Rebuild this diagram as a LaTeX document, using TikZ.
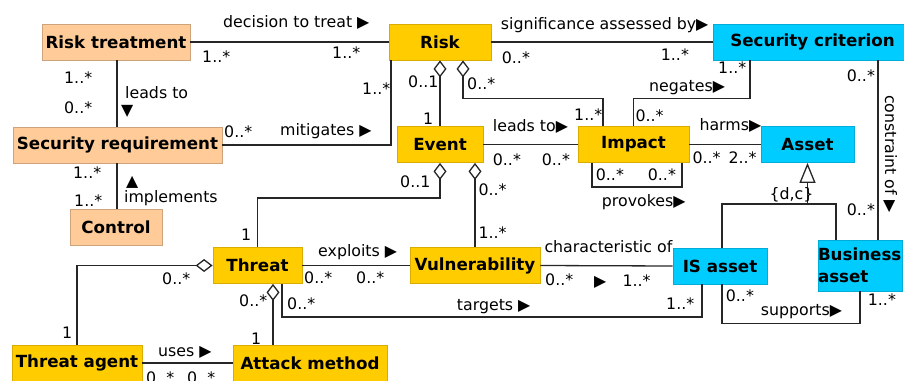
\documentclass[tikz,border=0pt]{standalone}
\usepackage{fontspec}
\setmainfont{DejaVu Sans}
\usepackage{color}
\usepackage{tikz}
\usetikzlibrary{arrows.meta}
\definecolor{peach}{RGB}{255,204,153}
\definecolor{gold}{RGB}{255,204,0}
\definecolor{sky}{RGB}{0,204,255}

\begin{document}
\begin{tikzpicture}[x=1pt, y=-1pt,
cls/.style={minimum height=36pt, inner sep=0pt, line width=0.8pt,
  font=\fontsize{16.7}{22}\selectfont\bfseries},
peachbox/.style={cls, fill=peach, draw=peach!80!black},
goldbox/.style={cls, fill=gold, draw=gold!85!black},
skybox/.style={cls, fill=sky, draw=sky!85!black},
lab/.style={inner sep=0pt, anchor=base west, font=\fontsize{15.8}{19}\selectfont},
link/.style={line width=1.3pt, draw=black!85},
agg/.style={link, {Diamond[open, length=17pt, width=13pt]}-},
gen/.style={link, {Triangle[open, length=20pt, width=16pt]}-}]
\useasboundingbox (0,0) rectangle (904,380);

% classes
\node[peachbox, minimum width=148pt] (rtreat) at (116,42) {Risk treatment};
\node[peachbox, minimum width=209pt] (sreq) at (117.5,145) {Security requirement};
\node[peachbox, minimum width=92pt] (control) at (116,227) {Control};
\node[goldbox, minimum width=102pt] (risk) at (440,42) {Risk};
\node[goldbox, minimum width=86pt] (event) at (440,144.5) {Event};
\node[goldbox, minimum width=111pt] (impact) at (633.5,144.5) {Impact};
\node[skybox, minimum width=199pt] (scrit) at (812.5,42) {Security criterion};
\node[skybox, minimum width=93pt] (asset) at (807.5,144.5) {Asset};
\node[goldbox, minimum width=89pt] (threat) at (257.5,265.5) {Threat};
\node[goldbox, minimum width=130pt] (vuln) at (475,265.5) {Vulnerability};
\node[skybox, minimum width=94pt] (isasset) at (720,266) {IS asset};
\node[skybox, minimum height=51pt, text width=84pt, align=left] (basset) at (860,265.5) {Business\\asset};
\node[goldbox, minimum width=130pt] (tagent) at (77,363) {Threat agent};
\node[goldbox, minimum width=154pt] (amethod) at (310,363) {Attack method};

% associations
\draw[link] (rtreat.east) -- (risk.west);
\draw[link] ([xshift=1pt]rtreat.south) -- ([xshift=-0.5pt]sreq.north);
\draw[link] ([xshift=-0.5pt]sreq.south) -- ([xshift=1pt]control.north);
\draw[link] (sreq.east) -| ([xshift=-49pt]risk.south);
\draw[agg] (risk.south) -- (event.north);
\draw[agg] ([xshift=23pt]risk.south) -- ++(0,38) -| ([xshift=-30.5pt]impact.north);
\draw[link] (risk.east) -- (scrit.west);
\draw[link] ([xshift=-62.5pt]scrit.south) -- ++(0,38) -| (impact.north);
\draw[link] ([xshift=65.5pt]scrit.south) -- ([xshift=18pt]basset.north);
\draw[link] (event.east) -- (impact.west);
\draw[link] ([xshift=-41.5pt]impact.south) -- ++(0,24) -| ([xshift=48.5pt]impact.south);
\draw[link] (impact.east) -- (asset.west);
\coordinate (fork) at (807.5,204);
\draw[gen] (asset.south) -- (fork);
\draw[link] ([xshift=2pt]isasset.north) |- (fork) -| ([xshift=-24pt]basset.north);
\draw[agg] (event.south) -- ++(0,35) -| (threat.north);
\draw[agg] ([xshift=35pt]event.south) -- (vuln.north);
\draw[link] (threat.east) -- (vuln.west);
\draw[link] (vuln.east) -- (isasset.west);
\draw[link] ([xshift=24.5pt]threat.south) -- ++(0,33) -| ([xshift=-18pt]isasset.south);
\draw[agg] (threat.west) -| (tagent.north);
\draw[agg] ([xshift=15.5pt]threat.south) -- ([xshift=-37pt]amethod.north);
\draw[link] (tagent.east) -- (amethod.west);
\draw[link] ([xshift=2pt]isasset.south) -- ++(0,39) -| (basset.south);

% names and multiplicities
\node[lab] (l1) at (223,27.5) {decision to treat ▶};
\node[lab] (m1) at (202,62) {1..*};
\node[lab] (m2) at (332,58) {1..*};
\node[lab] (m3) at (64,83) {1..*};
\node[lab] (l2) at (125,98.5) {leads to};
\node[lab] (a1) at (121,115) {▼};
\node[lab] (m4) at (64,113) {0..*};
\node[lab] (m5) at (224,137) {0..*};
\node[lab] (l3) at (280,135) {mitigates ▶};
\node[lab] (m6) at (362,94) {1..*};
\node[lab] (m7) at (408,87) {0..1};
\node[lab] (m8) at (423,124) {1};
\node[lab] (m9) at (73,178) {1..*};
\node[lab] (a2) at (126,186) {▲};
\node[lab] (m10) at (400,187) {0..1};
\node[lab] (m11) at (74,206.7) {1..*};
\node[lab] (l4) at (124,202) {implements};
\node[lab] (m12) at (241,240) {1};
\node[lab] (l5) at (318,256.7) {exploits ▶};
\node[lab] (m13) at (304,283.3) {0..*};
\node[lab] (m14) at (356,283.3) {0..*};
\node[lab] (m15) at (162,284) {0..*};
\node[lab] (m16) at (239,306.7) {0..*};
\node[lab] (m17) at (287,309) {0..*};
\node[lab] (m18) at (62,338) {1};
\node[lab] (m19) at (251,344) {1};
\node[lab] (l6) at (158,356.7) {uses ▶};
\node[lab] (m20) at (146,383.5) {0..*};
\node[lab] (m21) at (187,383.5) {0..*};
\node[lab] (l7) at (500.7,29) {significance assessed by▶};
\node[lab] (m22) at (501.7,63.3) {0..*};
\node[lab] (m23) at (660.7,60) {1..*};
\node[lab] (m24) at (467,89.3) {0..*};
\node[lab] (m25) at (718,73.3) {1..*};
\node[lab] (l8) at (649,91.7) {negates▶};
\node[lab] (m26) at (846.7,81.7) {0..*};
\node[lab] (m27) at (574,120) {1..*};
\node[lab] (m28) at (635.3,121.7) {0..*};
\node[lab] (l9) at (492.7,131.7) {leads to▶};
\node[lab] (l10) at (699.3,130) {harms▶};
\node[lab] (m29) at (492.7,165) {0..*};
\node[lab] (m30) at (541.7,165) {0..*};
\node[lab] (m31) at (692.3,163.3) {0..*};
\node[lab] (m32) at (728.3,163.3) {2..*};
\node[lab] (m33) at (595.7,180) {0..*};
\node[lab] (m34) at (647.7,180) {0..*};
\node[lab, rotate=-90] (l11) at (885,95) {constraint of ▶};
\node[lab] (l12) at (601.7,206) {provokes▶};
\node[lab] (l13) at (769.3,199) {\{d,c\}};
\node[lab] (m35) at (846.7,215.7) {0..*};
\node[lab] (m36) at (478.3,195) {0..*};
\node[lab] (m37) at (478.3,238.3) {1..*};
\node[lab] (l14) at (544.3,252.3) {characteristic of};
\node[lab] (m38) at (545,285) {0..*};
\node[lab] (a3) at (594,286) {▶};
\node[lab] (m39) at (622.3,286.7) {1..*};
\node[lab] (l15) at (456.7,310) {targets ▶};
\node[lab] (m40) at (666,309.3) {1..*};
\node[lab] (m41) at (725.7,301.7) {0..*};
\node[lab] (l16) at (760.7,315) {supports▶};
\node[lab] (m42) at (867.7,305) {1..*};
\end{tikzpicture}
\end{document}
